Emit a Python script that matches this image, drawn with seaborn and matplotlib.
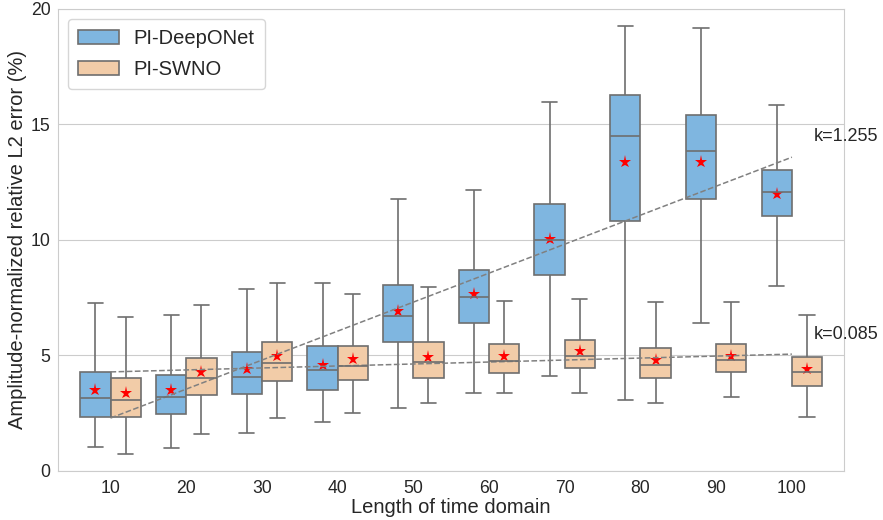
import numpy as np
import pandas as pd
import matplotlib
matplotlib.use("Agg")
import matplotlib.pyplot as plt
import seaborn as sns

times = [10, 20, 30, 40, 50, 60, 70, 80, 90, 100]
models = ["PI-DeepONet", "PI-SWNO"]

deeponet_min = [1.02, 0.97, 1.62, 2.11, 2.69, 3.34, 4.10, 3.05, 6.38, 8.00]
deeponet_q1 = [2.30, 2.43, 3.30, 3.48, 5.58, 6.41, 8.46, 10.81, 11.78, 11.02]
deeponet_med = [3.16, 3.18, 4.06, 4.35, 6.70, 7.51, 9.98, 14.51, 13.84, 12.08]
deeponet_q3 = [4.29, 4.15, 5.13, 5.39, 8.06, 8.71, 11.56, 16.26, 15.39, 13.03]
deeponet_max = [7.28, 6.73, 7.88, 8.13, 11.77, 12.17, 15.95, 19.24, 19.16, 15.82]
deeponet_mean = [3.50, 3.48, 4.41, 4.58, 6.93, 7.64, 10.02, 13.37, 13.35, 11.97]

swno_min = [0.70, 1.58, 2.26, 2.50, 2.94, 3.34, 3.38, 2.94, 3.19, 2.33]
swno_q1 = [2.30, 3.27, 3.90, 3.92, 4.02, 4.23, 4.44, 4.00, 4.25, 3.68]
swno_med = [3.06, 4.00, 4.65, 4.52, 4.70, 4.75, 4.96, 4.57, 4.78, 4.26]
swno_q3 = [4.03, 4.87, 5.59, 5.39, 5.58, 5.48, 5.65, 5.33, 5.48, 4.91]
swno_max = [6.67, 7.19, 8.12, 7.64, 7.94, 7.34, 7.45, 7.32, 7.31, 6.73]
swno_mean = [3.37, 4.25, 4.97, 4.83, 4.94, 4.96, 5.16, 4.78, 4.96, 4.38]

slope_labels = ["k=1.255", "k=0.085"]

summaries = {
    "PI-DeepONet": [deeponet_min, deeponet_q1, deeponet_med, deeponet_q3, deeponet_max],
    "PI-SWNO": [swno_min, swno_q1, swno_med, swno_q3, swno_max],
}
means = {"PI-DeepONet": deeponet_mean, "PI-SWNO": swno_mean}

rows = []
for m in models:
    for i, t in enumerate(times):
        for stat in summaries[m]:
            rows.append({"T": str(t), "model": m, "err": stat[i]})
box_df = pd.DataFrame(rows)

mean_rows = []
for m in models:
    for i, t in enumerate(times):
        mean_rows.append({"T": str(t), "model": m, "err": means[m][i], "idx": i})
mean_df = pd.DataFrame(mean_rows)

sns.set_style("whitegrid")
plt.rcParams["font.family"] = ["Liberation Sans", "DejaVu Sans"]

fig, ax = plt.subplots(figsize=(8.83, 5.2), dpi=100)
fig.subplots_adjust(left=0.066, right=0.956, top=0.983, bottom=0.095)

palette = {"PI-DeepONet": "#7fb6e0", "PI-SWNO": "#f2cca8"}
order = [str(t) for t in times]

sns.boxplot(data=box_df, x="T", y="err", hue="model", order=order, hue_order=models,
            palette=palette, saturation=1, whis=(0, 100), showfliers=False, width=0.8,
            linecolor="#6e6e6e", linewidth=1.2, ax=ax)

sns.pointplot(data=mean_df, x="T", y="err", hue="model", order=order, hue_order=models,
              palette=["red", "red"], markers="*", linestyle="none", dodge=0.4,
              errorbar=None, legend=False, markersize=9.5, markeredgewidth=0, ax=ax)

for m in models:
    sub = mean_df[mean_df["model"] == m]
    sns.regplot(x=sub["idx"].to_numpy(), y=sub["err"].to_numpy(), scatter=False, ci=None,
                truncate=True, color="#808080",
                line_kws={"linestyle": "--", "linewidth": 1.1}, ax=ax)

label_y = [14.45, 5.88]
for lab, yy in zip(slope_labels, label_y):
    ax.text(9.29, yy, lab, fontsize=13, va="center", ha="left", clip_on=False)

ax.set_xlim(-0.69, 9.69)
ax.set_ylim(0, 20)
ax.set_yticks([0, 5, 10, 15, 20])
ax.set_xticks(range(len(times)))
ax.set_xticklabels(order)
ax.tick_params(axis="both", labelsize=12.7, pad=3)
ax.tick_params(axis="y", pad=2)
ax.xaxis.grid(False)
ax.set_xlabel("Length of time domain", fontsize=14.5, labelpad=1)
ax.set_ylabel("Amplitude-normalized relative L2 error (%)", fontsize=14.5, labelpad=3)

sns.move_legend(ax, "upper left", title=None, fontsize=14.5, frameon=True,
                labelspacing=0.6, handletextpad=0.75, borderpad=0.5,
                bbox_to_anchor=(0.0, 1.0))

fig.savefig("out.png", dpi=100)
